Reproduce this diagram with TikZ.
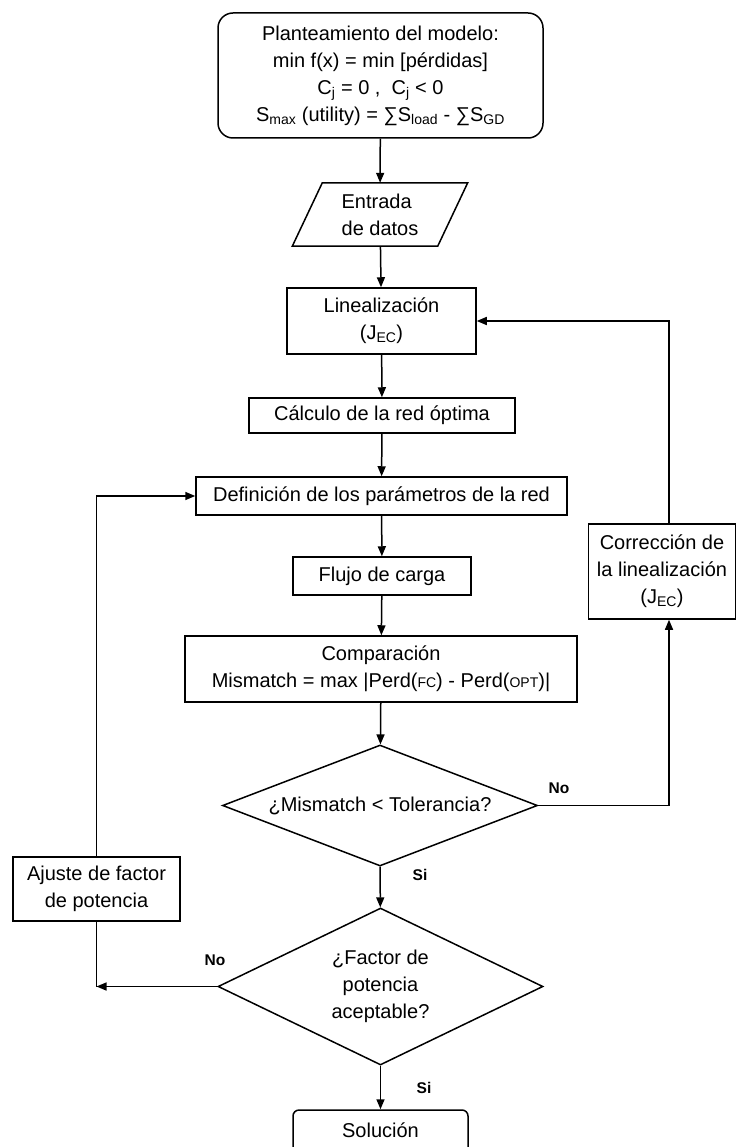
\documentclass[tikz,border=0pt]{standalone}
\usepackage{fontspec}
\setmainfont{Liberation Sans}
\usetikzlibrary{shapes.geometric,arrows.meta,calc}

% small upright letters set on the baseline, as in Perd(FC)
\newcommand{\lowcaps}[1]{{\fontsize{14}{14}\selectfont #1}}

\begin{document}
\begin{tikzpicture}[x=1pt,y=-1pt,
  every node/.style={font=\fontsize{20}{27}\selectfont, align=center, inner sep=0pt},
  stepbox/.style={draw, line width=1.5pt},
  decision/.style={draw, diamond, line width=1.5pt},
  flow/.style={line width=1.5pt, -{Triangle[length=10pt,width=8pt]}},
  plain/.style={line width=1.5pt},
  lbl/.style={font=\fontsize{15.5}{15.5}\selectfont\bfseries}]

\useasboundingbox (0,0) rectangle (737,1147);

% process steps
\node[stepbox, rounded corners=15pt, minimum width=325pt, minimum height=125pt]
  (model) at (380.5,75.5)
  {Planteamiento del modelo:\\
   min f(x) = min [pérdidas]\\
   C\textsubscript{j} = 0 ,\ \ C\textsubscript{j} < 0\\
   S\textsubscript{max} (utility) = ∑S\textsubscript{load} - ∑S\textsubscript{GD}};

\node[align=left, minimum width=145pt, minimum height=63pt] (input) at (380,214.5)
  {Entrada\\de datos};
\draw[plain, line join=miter]
  ([xshift=-15pt]input.south west) -- ([xshift=15pt]input.north west) --
  ([xshift=15pt]input.north east) -- ([xshift=-15pt]input.south east) -- cycle;

\node[stepbox, minimum width=189pt, minimum height=66pt] (lin) at (381.5,321)
  {Linealización\\(J\textsubscript{EC})};
\node[stepbox, minimum width=266pt, minimum height=35pt] (calc) at (382,415.5)
  {Cálculo de la red óptima};
\node[stepbox, minimum width=371pt, minimum height=38pt] (def) at (381.5,496)
  {Definición de los parámetros de la red};
\node[stepbox, minimum width=178pt, minimum height=38pt] (load) at (382,576)
  {Flujo de carga};
\node[stepbox, minimum width=392pt, minimum height=66pt] (comp) at (381,669)
  {Comparación\\Mismatch = max |Perd(\lowcaps{FC}) - Perd(\lowcaps{OPT})|};

\node[decision, aspect=2.6, minimum width=315pt, minimum height=121pt] (tol) at (380,805.5)
  {¿Mismatch < Tolerancia?};
\node[decision, aspect=2.07, minimum width=325pt, minimum height=157pt] (pf) at (380.5,986.5)
  {¿Factor de\\potencia\\aceptable?};

\node[stepbox, minimum width=147pt, minimum height=95pt] (corr) at (662,571.5)
  {Corrección de\\la linealización\\(J\textsubscript{EC})};
\node[stepbox, minimum width=167pt, minimum height=64pt] (adj) at (96.5,889)
  {Ajuste de factor\\de potencia};

\node[stepbox, rounded corners=6pt, minimum width=175pt,
      text height=27pt, text depth=33pt] (sol) at (380.5,1140) {Solución};

% main sequence
\draw[flow] (model) -- (input);
\draw[flow] (input) -- (lin);
\draw[flow] (lin) -- (calc);
\draw[flow] (calc) -- (def);
\draw[flow] (def) -- (load);
\draw[flow] (load) -- (comp);
\draw[flow] (comp) -- (tol);
\draw[flow] (tol) -- (pf);
\draw[flow] (pf) -- (sol);

% linearisation correction loop
\coordinate (corrIn) at ([xshift=7pt]corr.south);
\coordinate (corrOut) at ([xshift=7pt]corr.north);
\draw[flow] (tol.east) -| (corrIn);
\draw[flow] (corrOut) |- (lin.east);

% power factor adjustment loop
\coordinate (adjJoin) at (adj.south |- pf.west);
\draw[flow] (pf.west) -- (adjJoin);
\draw[plain] (adj.south) -- (adjJoin);
\draw[flow] (adj.north) |- (def.west);

% branch labels
\node[lbl] (noTol) at (559,788) {No};
\node[lbl] (siTol) at (420,875) {Si};
\node[lbl] (noPf) at (215,960) {No};
\node[lbl] (siPf) at (424,1088) {Si};

\end{tikzpicture}
\end{document}
